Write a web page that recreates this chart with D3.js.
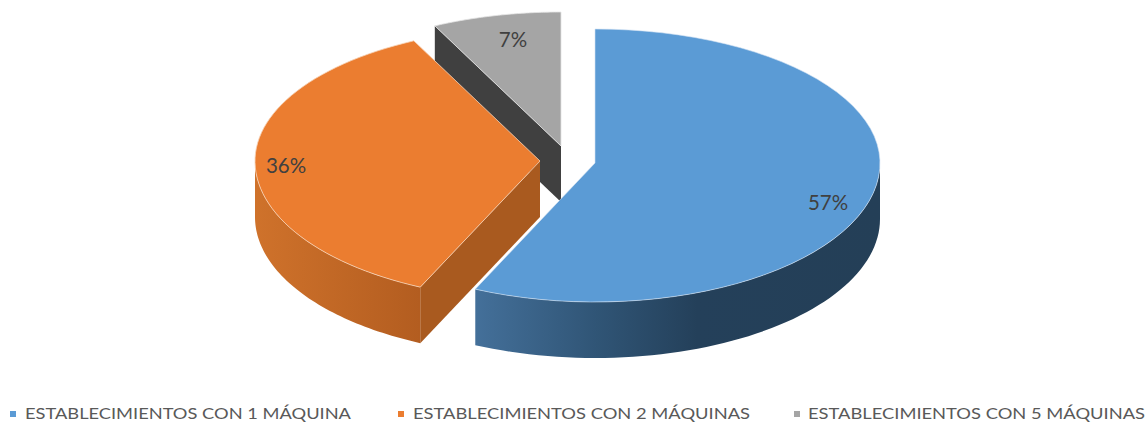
<!DOCTYPE html>
<head>
  <meta charset="utf-8">
  <script src="https://cdn.jsdelivr.net/npm/d3@7/dist/d3.min.js"></script>
  <style>
    body { margin:0; background:#fff; }
    text { font-family:Lato, sans-serif; fill:#595959; }
  </style>
</head>
<body>
  <svg width="1147" height="423"></svg>
  <script>
    // values, labels are the rounded ones
    var categories = ["ESTABLECIMIENTOS CON 1 MÁQUINA", "ESTABLECIMIENTOS CON 2 MÁQUINAS", "ESTABLECIMIENTOS CON 5 MÁQUINAS"];
    var shares = [56.9, 35.8, 7.3];
    var colors = ["#5b9bd5", "#eb7d30", "#a5a5a5"];

    var svg = d3.select("svg");

    var pieAngles = d3.pie().sort(null)(shares);

    // where each exploded slice has its apex, and the tilt of the disc
    var apex = [[595, 163], [540, 161], [561, 146]];
    var rx = 285, ryBack = 134, ryFront = 139, depth = 56;

    var sx = d3.scaleLinear().domain([-1, 1]).range([-rx, rx]);
    var syBack = d3.scaleLinear().domain([0, 1]).range([0, -ryBack]);
    var syFront = d3.scaleLinear().domain([-1, 0]).range([ryFront, 0]);

    function rim(i, a) {
      var c = Math.cos(a);
      return [apex[i][0] + sx(Math.sin(a)), apex[i][1] + (c > 0 ? syBack(c) : syFront(c))];
    }
    function arcPoints(i, a0, a1) {
      return d3.range(0, 61).map(function (k) { return rim(i, a0 + (a1 - a0) * k / 60); });
    }
    function down(p) { return [p[0], p[1] + depth]; }
    var line = d3.line();

    // outer wall shading, dark towards the right like the original
    var defs = svg.append("defs");
    function gradient(id, x1, x2, stops) {
      var g = defs.append("linearGradient").attr("id", id)
        .attr("gradientUnits", "userSpaceOnUse")
        .attr("x1", x1).attr("x2", x2).attr("y1", 0).attr("y2", 0);
      stops.forEach(function (s) {
        g.append("stop").attr("offset", s[0]).attr("stop-color", s[1]);
      });
    }
    gradient("wall0", 474, 880, [[0, "#44709a"], [0.3, "#305576"], [0.55, "#24405a"], [1, "#243f57"]]);
    gradient("wall1", 255, 420, [[0, "#cf722b"], [1, "#b35d20"]]);

    var front = Math.PI / 2, left = Math.PI * 1.5;

    // back to front: grey, orange, blue
    // grey slice
    var a = pieAngles[2];
    var p0 = rim(2, a.startAngle);
    svg.append("path").attr("fill", "#404040")
      .attr("d", line([apex[2], p0, down(p0), down(apex[2])]) + "Z");
    svg.append("path").attr("fill", colors[2]).attr("stroke", "#e4e4e4").attr("stroke-width", 0.8)
      .attr("d", line([apex[2]].concat(arcPoints(2, a.startAngle, a.endAngle))) + "Z");

    // orange slice
    a = pieAngles[1];
    p0 = rim(1, a.startAngle);
    svg.append("path").attr("fill", "#a95a1f")
      .attr("d", line([apex[1], p0, down(p0), down(apex[1])]) + "Z");
    var top1 = arcPoints(1, a.startAngle, left);
    svg.append("path").attr("fill", "url(#wall1)")
      .attr("d", line(top1.concat(top1.map(down).reverse())) + "Z");
    svg.append("path").attr("fill", colors[1]).attr("stroke", "#f6d3b8").attr("stroke-width", 0.8)
      .attr("d", line([apex[1]].concat(arcPoints(1, a.startAngle, a.endAngle))) + "Z");

    // blue slice
    a = pieAngles[0];
    var top0 = arcPoints(0, front, a.endAngle);
    svg.append("path").attr("fill", "url(#wall0)")
      .attr("d", line(top0.concat(top0.map(down).reverse())) + "Z");
    svg.append("path").attr("fill", colors[0]).attr("stroke", "#d3e3f3").attr("stroke-width", 0.6)
      .attr("d", line([apex[0]].concat(arcPoints(0, a.startAngle, a.endAngle))) + "Z");

    // percent labels
    var labelAt = [[828, 210], [286, 173], [513, 47]];
    svg.selectAll(".pct").data(shares).enter().append("text")
      .attr("class", "pct")
      .attr("x", function (d, i) { return labelAt[i][0]; })
      .attr("y", function (d, i) { return labelAt[i][1]; })
      .attr("text-anchor", "middle")
      .attr("font-size", 20.5)
      .style("fill", "#404040")
      .text(function (d) { return Math.round(d) + "%"; });

    // legend
    var markerX = [10, 398, 794], textX = [25, 413, 808], textW = [326, 337, 337];
    var legend = svg.selectAll(".legend").data(categories).enter().append("g").attr("class", "legend");
    legend.append("rect")
      .attr("x", function (d, i) { return markerX[i]; })
      .attr("y", 411)
      .attr("width", 6).attr("height", 6)
      .attr("fill", function (d, i) { return colors[i]; });
    legend.append("text")
      .attr("x", function (d, i) { return textX[i]; })
      .attr("y", 419)
      .attr("font-size", 15.5)
      .attr("textLength", function (d, i) { return textW[i]; })
      .attr("lengthAdjust", "spacingAndGlyphs")
      .text(function (d) { return d; });
  </script>
</body>
